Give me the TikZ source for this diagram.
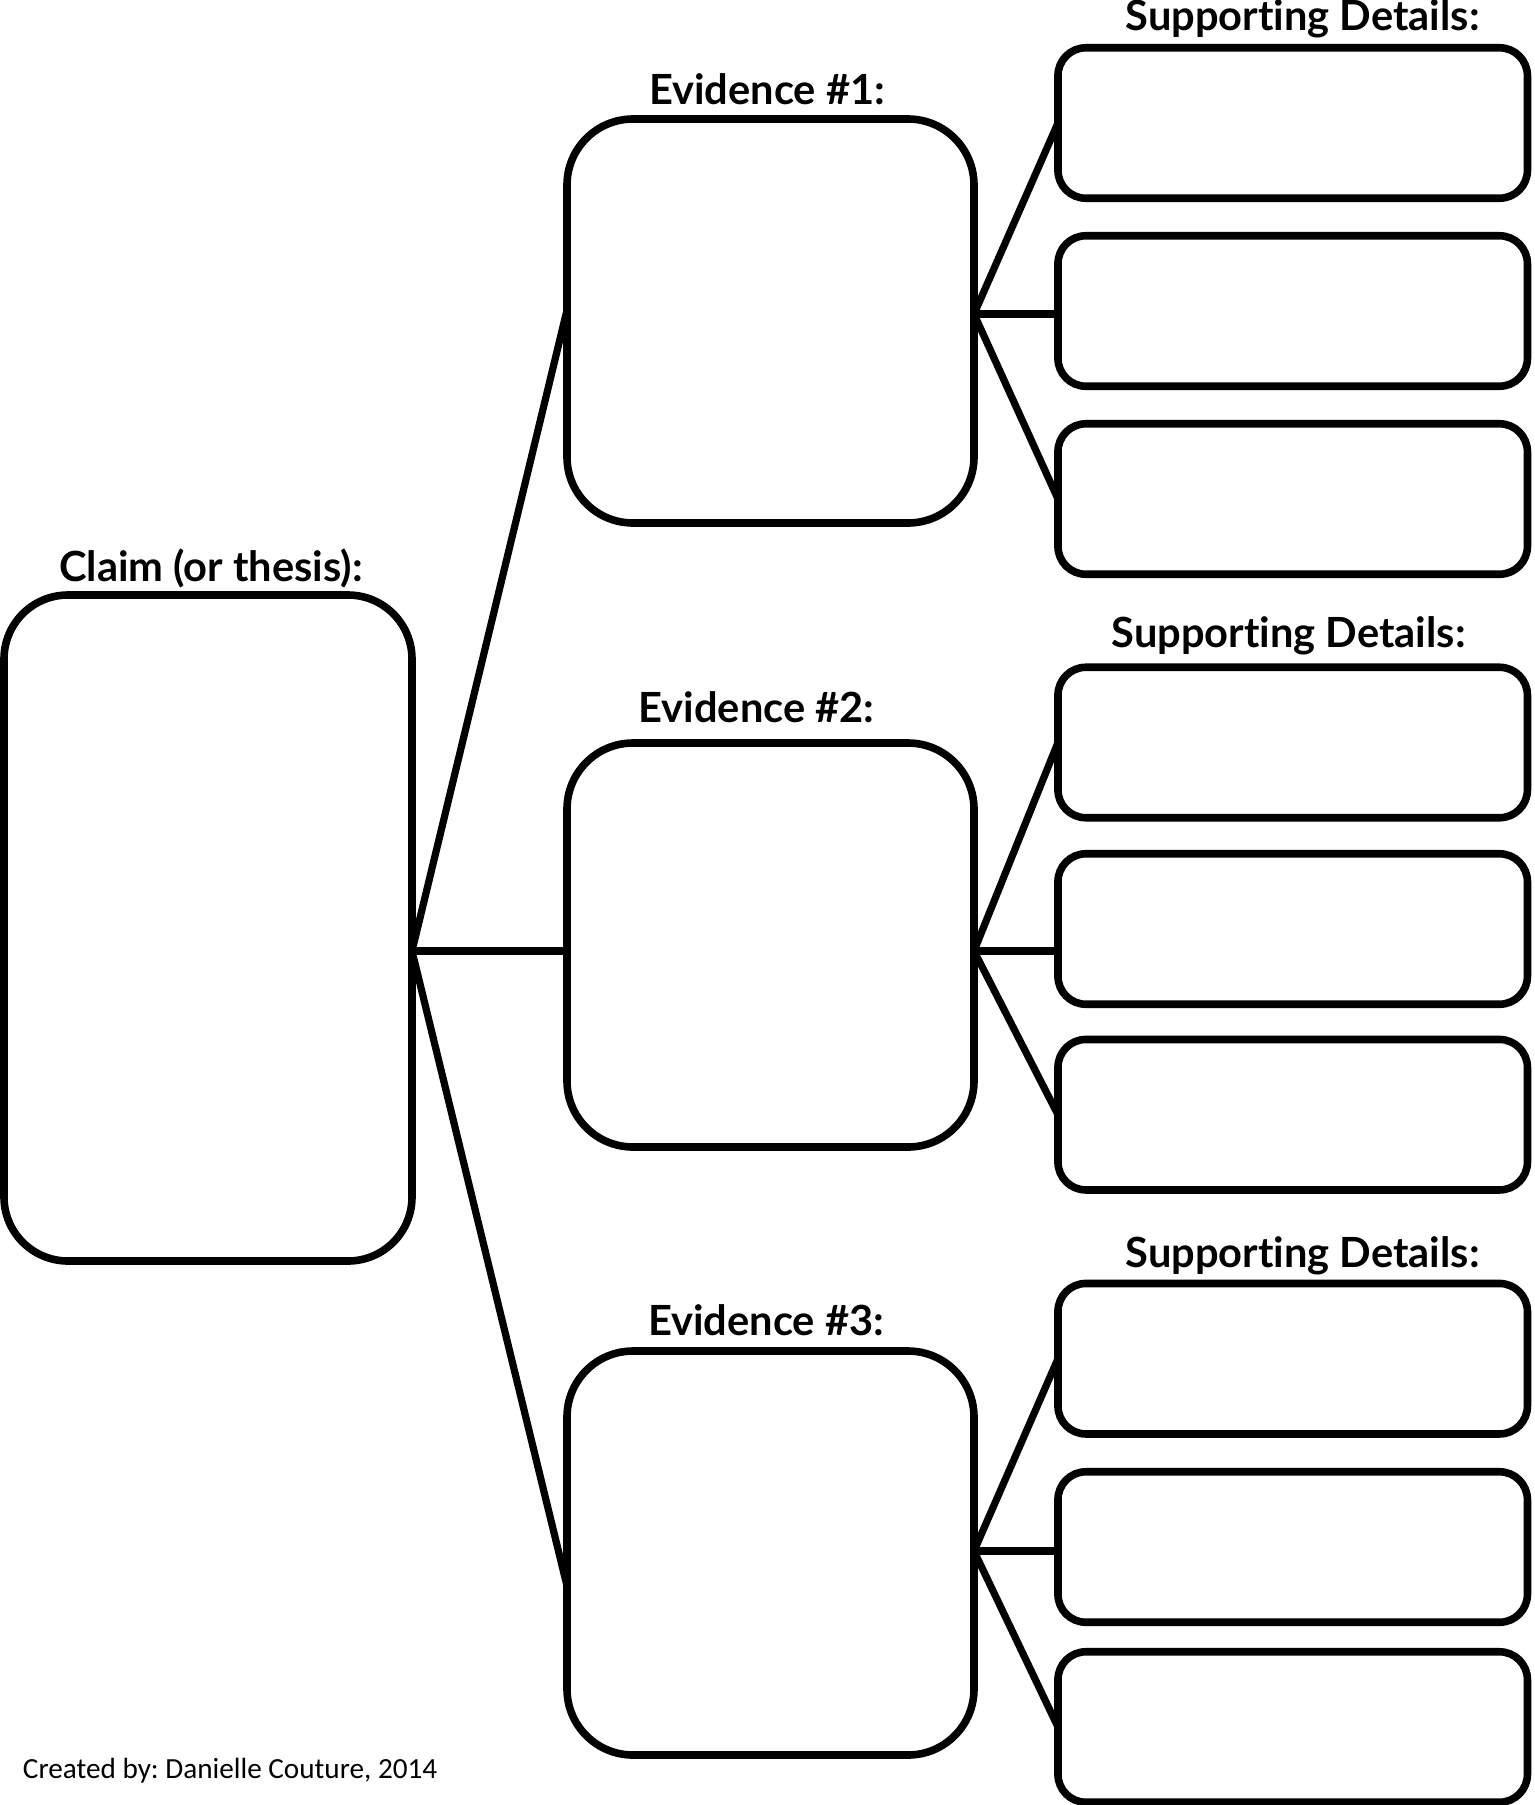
\documentclass[tikz,border=0pt]{standalone}
\usepackage{fontspec}
\setmainfont{Lato}[Ligatures=NoCommon]
\newfontfamily\creditfont{Carlito}
\usetikzlibrary{positioning}
\frenchspacing

\begin{document}
\begin{tikzpicture}[node distance=2cm,on grid,
    every node/.style={inner sep=0pt,outer sep=0pt},
    box/.style={draw,line width=3.8pt,rounded corners=#1},
    claimbox/.style={box=32pt,minimum width=204pt,minimum height=333pt},
    evbox/.style={box=33pt,minimum width=203.5pt,minimum height=202pt},
    detailbox/.style={box=14pt,minimum width=234.75pt,minimum height=75.25pt},
    heading/.style={font=\bfseries\fontsize{20.8}{23}\selectfont,anchor=base},
    link/.style={line width=3.6pt}]
    \useasboundingbox (0,0) rectangle (767.5pt,-902.5pt);
    \node[claimbox] (claim) at (104pt,-464pt)                 {};
    \node[evbox]    (e_2)   [below right=8.5pt and 281.25pt of claim] {};
    \node[evbox]    (e_1)   [above=312pt of e_2]              {};
    \node[evbox]    (e_3)   [below=304pt of e_2]              {};
    % details for evidence 1
    \node[detailbox] (d_12) [above right=5pt and 261.1pt of e_1] {};
    \node[detailbox] (d_11) [above=94pt of d_12]                 {};
    \node[detailbox] (d_13) [below=94pt of d_12]                 {};
    % details for evidence 2
    \node[detailbox] (d_22) [above right=8pt and 261.1pt of e_2] {};
    \node[detailbox] (d_21) [above=93.25pt of d_22]              {};
    \node[detailbox] (d_23) [below=92.85pt of d_22]              {};
    % details for evidence 3
    \node[detailbox] (d_32) [above right=3pt and 261.1pt of e_3] {};
    \node[detailbox] (d_31) [above=94.15pt of d_32]              {};
    \node[detailbox] (d_33) [below=90pt of d_32]                 {};
    % headings
    \node[heading] (claim_h) at ([xshift=1.5pt,yshift=7pt]claim.north) {Claim (or thesis):};
    \node[heading] (e_1h) at ([xshift=-1.75pt,yshift=7.3pt]e_1.north) {Evidence \#1:};
    \node[heading] (e_2h) at ([xshift=-7pt,yshift=10.5pt]e_2.north)   {Evidence \#2:};
    \node[heading] (e_3h) at ([xshift=-2.25pt,yshift=8pt]e_3.north)   {Evidence \#3:};
    \node[heading] (d_1h) at ([xshift=5pt,yshift=8.7pt]d_11.north)    {Supporting Details:};
    \node[heading] (d_2h) at ([xshift=-2pt,yshift=10pt]d_21.north)    {Supporting Details:};
    \node[heading] (d_3h) at ([xshift=5pt,yshift=8.2pt]d_31.north)    {Supporting Details:};
    \node[anchor=base west,font=\creditfont\fontsize{14.6}{17}\selectfont] (credit)
      at (11.5pt,-889pt) {Created by: Danielle Couture, 2014};
    % junctions
    \path (claim.east |- e_2.west) ++(0,-3pt) coordinate (hub);
    \coordinate (j_1) at ([yshift=3.5pt]e_1.east);
    \coordinate (j_2) at ([yshift=-3pt]e_2.east);
    \coordinate (j_3) at ([yshift=1pt]e_3.east);
    \path[link]
    % claim to evidence
    (hub) edge ([yshift=5.5pt]e_1.west)
    (hub) edge (hub -| e_2.west)
    (hub) edge ([yshift=-16.5pt]e_3.west)
    % evidence 1
    (j_1) edge (d_11.west)
    (j_1) edge (j_1 -| d_12.west)
    (j_1) edge (d_13.west)
    % evidence 2
    (j_2) edge (d_21.west)
    (j_2) edge (j_2 -| d_22.west)
    (j_2) edge (d_23.west)
    % evidence 3
    (j_3) edge (d_31.west)
    (j_3) edge (j_3 -| d_32.west)
    (j_3) edge (d_33.west);
\end{tikzpicture}
\end{document}
